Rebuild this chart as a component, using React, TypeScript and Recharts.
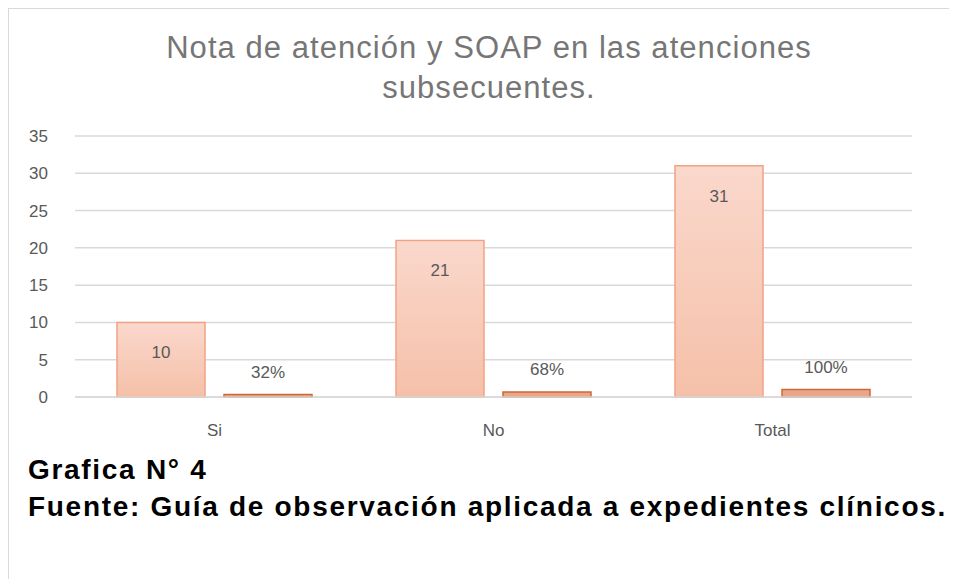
import React from 'react';
import { BarChart, Bar, XAxis, YAxis, CartesianGrid, LabelList } from 'recharts';

const categories = ['Si', 'No', 'Total'];
const counts = [10, 21, 31];
const shares = [0.32, 0.68, 1.0];
const shareLabels = ['32%', '68%', '100%'];
const yTicks = [0, 5, 10, 15, 20, 25, 30, 35];

const data = categories.map((name, i) => ({
  name,
  count: counts[i],
  share: shares[i],
  shareLabel: shareLabels[i],
}));

const FONT = '"Liberation Sans", Arial, sans-serif';

export default function App() {
  return (
    <div
      style={{
        position: 'relative',
        width: 949,
        height: 571,
        borderTop: '1px solid #d9d9d9',
        borderLeft: '1px solid #d9d9d9',
        boxSizing: 'border-box',
        fontFamily: FONT,
        background: '#fff',
      }}
    >
      <div
        style={{
          position: 'absolute',
          left: 0,
          top: 19,
          width: 960,
          textAlign: 'center',
          color: '#767676',
          fontSize: 31,
          letterSpacing: 1.05,
          lineHeight: '40px',
        }}
      >
        Nota de atención y SOAP en las atenciones
        <br />
        subsecuentes.
      </div>
      <div style={{ position: 'absolute', left: -1, top: -1 }}>
        <BarChart
          width={930}
          height={460}
          data={data}
          margin={{ top: 128, right: 26, left: 0, bottom: 41 }}
          barCategoryGap={42}
          barGap={19}
        >
          <defs>
            <linearGradient id="countFill" x1="0" y1="0" x2="0" y2="1">
              <stop offset="0%" stopColor="#fad8cc" />
              <stop offset="100%" stopColor="#f5c0a9" />
            </linearGradient>
          </defs>
          <CartesianGrid vertical={false} stroke="#d9d9d9" strokeWidth={1.5} />
          <XAxis
            dataKey="name"
            axisLine={{ stroke: '#d9d9d9', strokeWidth: 1.5 }}
            tickLine={false}
            tickMargin={21}
            height={30}
            tick={{ fill: '#595959', fontSize: 17, fontFamily: FONT }}
          />
          <YAxis
            domain={[0, 35]}
            ticks={yTicks}
            axisLine={false}
            tickLine={false}
            tickMargin={21}
            width={67}
            interval={0}
            tick={{ fill: '#595959', fontSize: 17, fontFamily: FONT }}
          />
          <Bar dataKey="count" fill="url(#countFill)" stroke="#f2a385" strokeWidth={1.5} isAnimationActive={false}>
            <LabelList dataKey="count" position="insideTop" offset={24} fill="#595959" fontSize={17} fontFamily={FONT} />
          </Bar>
          <Bar dataKey="share" fill="#e8a68c" stroke="#cd6a34" strokeWidth={1.5} isAnimationActive={false}>
            <LabelList dataKey="shareLabel" position="top" offset={17} fill="#595959" fontSize={17} fontFamily={FONT} />
          </Bar>
        </BarChart>
      </div>
      <div
        style={{
          position: 'absolute',
          left: 19,
          top: 442,
          color: '#000',
          fontWeight: 'bold',
          fontSize: 28,
          letterSpacing: 1.7,
          lineHeight: '37px',
          whiteSpace: 'nowrap',
        }}
      >
        Grafica N° 4
        <br />
        Fuente: Guía de observación aplicada a expedientes clínicos.
      </div>
    </div>
  );
}
